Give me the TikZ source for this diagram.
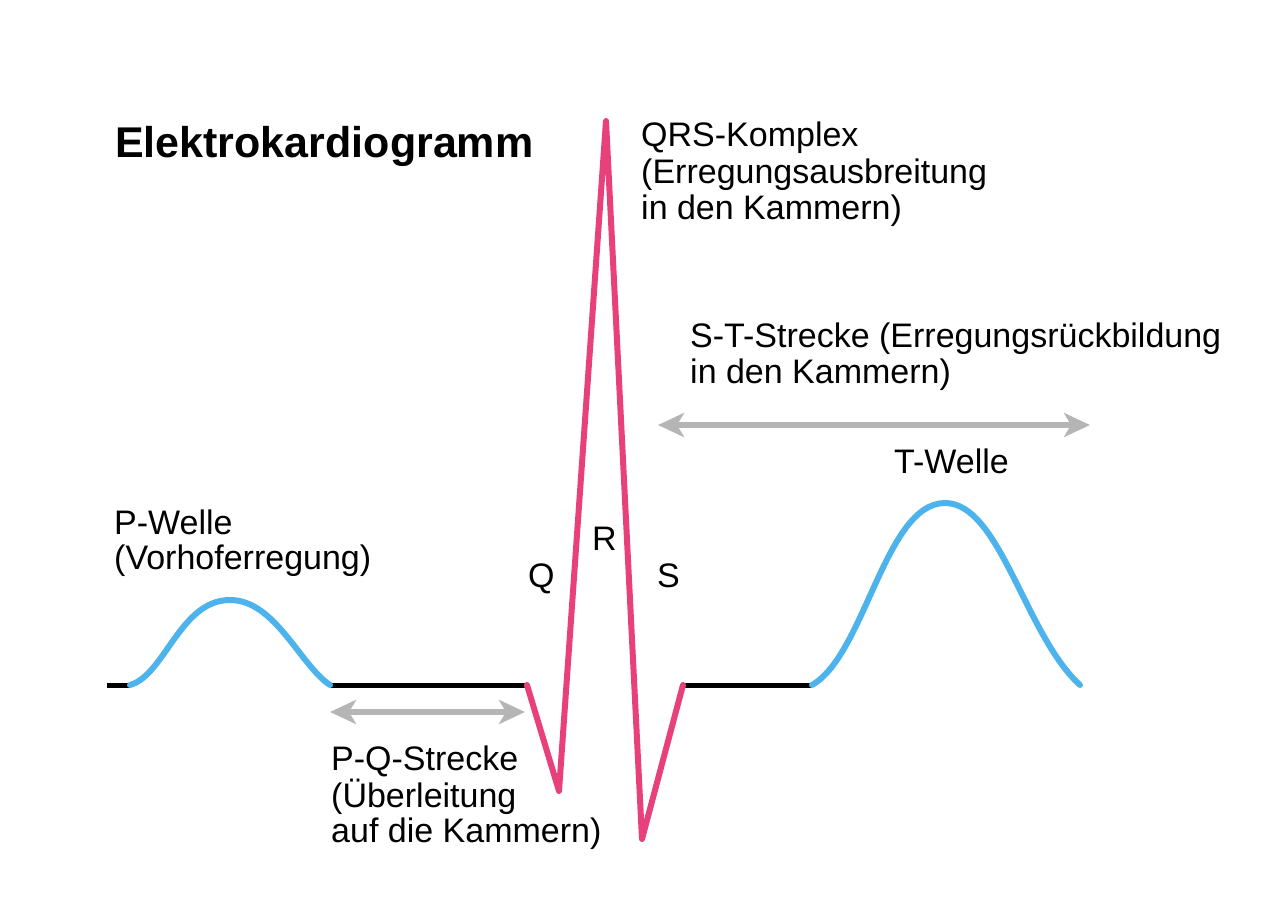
\documentclass[tikz,border=0pt]{standalone}
\usepackage{fontspec}
\setmainfont{Liberation Sans}
\usetikzlibrary{arrows.meta}
\definecolor{ekgpink}{HTML}{E8407A}
\definecolor{ekgblue}{HTML}{4DB3EC}
\definecolor{ekggrey}{HTML}{B5B5B5}
\tikzset{
  lbl/.style={anchor=base west, inner sep=0pt, font=\fontsize{34}{37}\selectfont},
  ttl/.style={anchor=base west, inner sep=0pt, font=\fontsize{43}{48}\selectfont\bfseries},
  base/.style={line width=5pt, black},
  wave/.style={line width=6pt, ekgblue, line cap=round},
  qrs/.style={line width=6pt, ekgpink, line join=round, line cap=round},
  span/.style={line width=6pt, ekggrey, {Stealth[length=26pt,width=24pt,inset=7pt]}-{Stealth[length=26pt,width=24pt,inset=7pt]}}
}
\begin{document}
\begin{tikzpicture}[x=1pt,y=-1pt]
\useasboundingbox (0,0) rectangle (1280,902);
% points
\coordinate (b0) at (107,685);
\coordinate (p0) at (130,685);
\coordinate (pp) at (230,600);
\coordinate (p1) at (330,685);
\coordinate (q0) at (527,685);
\coordinate (qt) at (559,791);
\coordinate (rt) at (606,121);
\coordinate (st) at (642,839);
\coordinate (s1) at (683,685);
\coordinate (t0) at (812,685);
\coordinate (tp) at (945,503);
\coordinate (t1) at (1080,685);
% baseline segments
\draw[base] (b0) -- (p0);
\draw[base] (p1) -- (q0);
\draw[base] (s1) -- (t0);
% P wave
\draw[wave] (p0) .. controls (165,675) and (180,600) .. (pp) .. controls (275,600) and (300,665) .. (p1);
% T wave
\draw[wave] (t0) .. controls (865,655) and (885,503) .. (tp) .. controls (1000,503) and (1025,635) .. (t1);
% QRS
\draw[qrs] (q0) -- (qt) -- (rt) -- (st) -- (s1);
% spans
\coordinate (pqa) at (330,712);
\coordinate (pqb) at (525,712);
\coordinate (sta) at (658,425);
\coordinate (stb) at (1090,425);
\draw[span] (pqa) -- (pqb);
\draw[span] (sta) -- (stb);
% texts
\node[ttl] (title) at (115,157) {Elektrokardiogramm};
\node[lbl] (qrs1) at (641,146) {QRS-Komplex};
\node[lbl] (qrs2) at (641,183) {(Erregungsausbreitung};
\node[lbl] (qrs3) at (641,219) {in den Kammern)};
\node[lbl] (st1) at (690,347) {S-T-Strecke (Erregungsrückbildung};
\node[lbl] (st2) at (690,383) {in den Kammern)};
\node[lbl] (tw) at (894,473) {T-Welle};
\node[lbl] (pw1) at (114,534) {P-Welle};
\node[lbl] (pw2) at (114,569) {(Vorhoferregung)};
\node[lbl] (lq) at (528,587) {Q};
\node[lbl] (lr) at (592,550) {R};
\node[lbl] (ls) at (657,587) {S};
\node[lbl] (pq1) at (331,770) {P-Q-Strecke};
\node[lbl] (pq2) at (331,807) {(Überleitung};
\node[lbl] (pq3) at (331,842) {auf die Kammern)};
\end{tikzpicture}
\end{document}
